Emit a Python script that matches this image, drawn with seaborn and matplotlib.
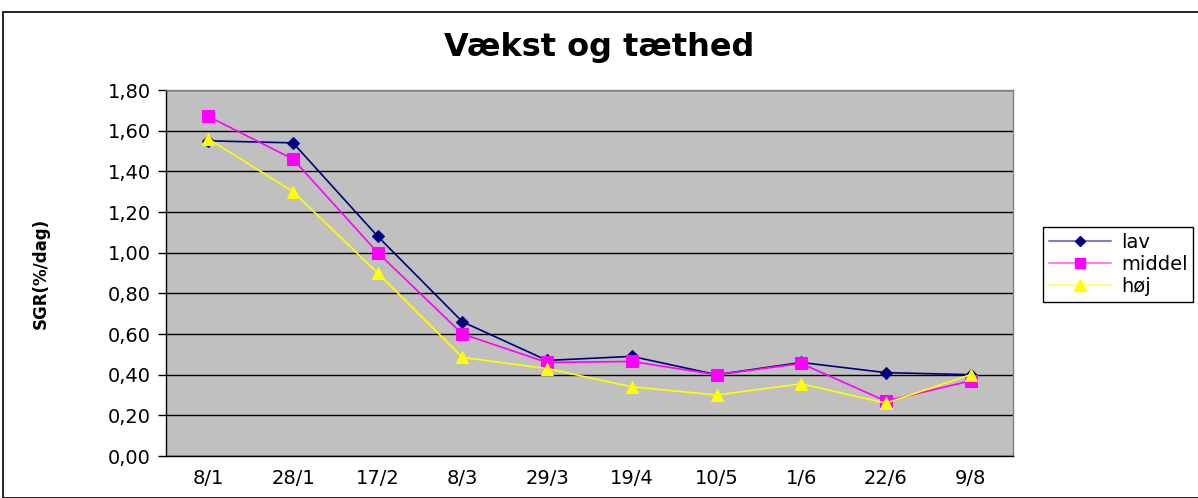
import matplotlib
matplotlib.use("Agg")
import matplotlib.pyplot as plt
import matplotlib.patches as mpatches
import matplotlib.colors as mcolors
import seaborn as sns
import pandas as pd
import numpy as np

# data
dates = ["8/1", "28/1", "17/2", "8/3", "29/3", "19/4", "10/5", "1/6", "22/6", "9/8"]
lav = [1.55, 1.54, 1.08, 0.66, 0.47, 0.49, 0.40, 0.46, 0.41, 0.40]
middel = [1.67, 1.46, 1.00, 0.60, 0.46, 0.465, 0.40, 0.455, 0.27, 0.37]
hoj = [1.56, 1.30, 0.90, 0.485, 0.43, 0.34, 0.30, 0.355, 0.26, 0.40]
y_ticks = [0.0, 0.2, 0.4, 0.6, 0.8, 1.0, 1.2, 1.4, 1.6, 1.8]

series = {"lav": lav, "middel": middel, "høj": hoj}
df = pd.DataFrame([
    {"pos": i, "dato": d, "serie": name, "sgr": v}
    for name, vals in series.items()
    for i, (d, v) in enumerate(zip(dates, vals))
])

sns.set_style("white")
plt.rcParams["font.family"] = ["DejaVu Sans"]
for key in ["text.color", "axes.labelcolor", "xtick.color", "ytick.color"]:
    plt.rcParams[key] = "black"

fig = plt.figure(figsize=(11.98, 4.98), dpi=100)
ax = fig.add_axes([166 / 1198, 42 / 498, 847 / 1198, 366 / 498])
ax.set_facecolor("#C0C0C0")

colors = {"lav": "#000080", "middel": "#FF00FF", "høj": "#FFFF00"}
markers = {"lav": "D", "middel": "s", "høj": "^"}
sizes = {"lav": 6, "middel": 8, "høj": 9}

for name in series:
    sub = df[df["serie"] == name]
    sns.lineplot(data=sub, x="pos", y="sgr", ax=ax, color=colors[name],
                 marker=markers[name], markersize=sizes[name],
                 markeredgecolor=colors[name], linewidth=1.2,
                 legend=False, zorder=3)

# akser
ax.set_xlim(-0.5, len(dates) - 0.5)
ax.set_ylim(0, 1.8)
ax.set_yticks(y_ticks)
ax.set_yticklabels([f"{t:.2f}".replace(".", ",") for t in y_ticks], fontsize=14)
ax.set_xticks(range(len(dates)))
ax.set_xticklabels(dates, fontsize=14)
ax.set_xticks(np.arange(-0.5, len(dates), 1.0), minor=True)
ax.tick_params(axis="x", which="major", length=0, pad=9)
ax.tick_params(axis="x", which="minor", length=6, width=1, color="black", direction="out")
ax.tick_params(axis="y", length=6, width=1, color="black", direction="out", left=True, pad=5)
ax.yaxis.grid(True, color="black", linewidth=1)
ax.set_axisbelow(True)
ax.set_xlabel("")
ax.set_ylabel("SGR(%/dag)", fontsize=12, fontweight="bold", labelpad=42)

for side in ["left", "bottom"]:
    ax.spines[side].set_color("black")
    ax.spines[side].set_linewidth(1)
for side in ["top", "right"]:
    ax.spines[side].set_color("#808080")
    ax.spines[side].set_linewidth(1)

fig.suptitle("Vækst og tæthed", fontsize=23, fontweight="bold", y=0.935)

# legend med tynde, lyse linjer som i Excel
handles = [
    plt.Line2D([], [], color=mcolors.to_rgba(colors[n], 0.5), linewidth=1.5, marker=markers[n],
               markersize=sizes[n] - 1, markerfacecolor=colors[n], markeredgecolor=colors[n])
    for n in series
]
leg = fig.legend(handles, list(series), loc="upper left",
                 bbox_to_anchor=(1043 / 1198, 1 - 227 / 498),
                 fontsize=14, frameon=True, fancybox=False, framealpha=1,
                 edgecolor="black", handlelength=3.2, borderpad=0.3, labelspacing=0.15,
                 handletextpad=0.5, borderaxespad=0)
leg.get_frame().set_linewidth(1)

# ramme om hele diagrammet
fig.patches.append(mpatches.Rectangle((3 / 1198, 0), 1.2, 1 - 12 / 498, transform=fig.transFigure,
                                      fill=False, edgecolor="black", linewidth=1.2))

fig.savefig("out.png", dpi=100)
